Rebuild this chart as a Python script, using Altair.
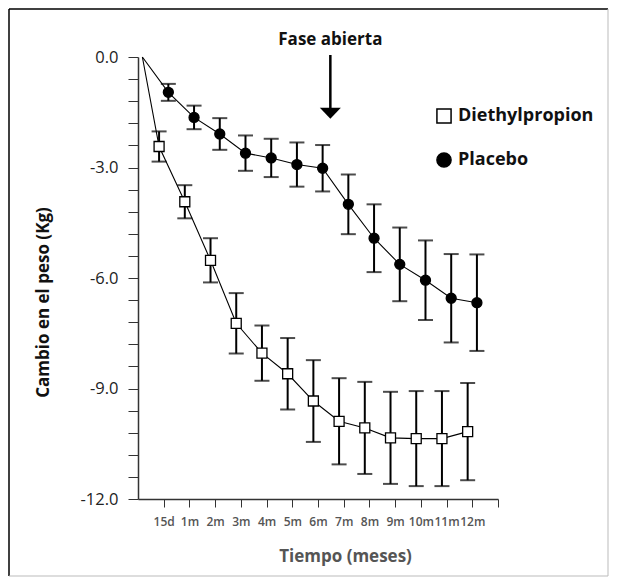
import altair as alt
import pandas as pd

# ---- data ----
time_labels = ["15d", "1m", "2m", "3m", "4m", "5m", "6m", "7m", "8m", "9m", "10m", "11m", "12m"]
series_names = ["Diethylpropion", "Placebo"]
diet_mean = [-2.43, -3.93, -5.52, -7.23, -8.04, -8.60, -9.34, -9.89, -10.07, -10.34, -10.36, -10.36, -10.17]
diet_err = [0.41, 0.45, 0.60, 0.82, 0.75, 0.97, 1.11, 1.17, 1.25, 1.25, 1.29, 1.29, 1.32]
plac_mean = [-0.96, -1.64, -2.09, -2.61, -2.74, -2.92, -3.02, -4.00, -4.92, -5.63, -6.06, -6.55, -6.67]
plac_err = [0.23, 0.32, 0.43, 0.48, 0.52, 0.60, 0.63, 0.81, 0.92, 1.00, 1.08, 1.20, 1.31]
start_value = 0.0
start_pos = 0.17
dodge = 0.18
phase_pos = 7.48
phase_text = "Fase abierta"

FONT = "Open Sans"

rows = []
line_rows = []
for name, means, errs, off in [
    (series_names[0], diet_mean, diet_err, -dodge),
    (series_names[1], plac_mean, plac_err, dodge),
]:
    line_rows.append(dict(serie=name, pos=start_pos, cambio=start_value))
    for i, (m, e) in enumerate(zip(means, errs)):
        r = dict(serie=name, pos=i + 1 + off, cambio=m, lo=m - e, hi=m + e)
        rows.append(r)
        line_rows.append(dict(serie=name, pos=r["pos"], cambio=m))
pts = pd.DataFrame(rows)
lines = pd.DataFrame(line_rows)

W, H = 360, 442
xscale = alt.Scale(domain=[0, 14], nice=False, zero=False)
yscale = alt.Scale(domain=[-12, 0], nice=False, zero=False)

label_arr = "[" + ",".join("'" + t + "'" for t in time_labels) + "]"
x_axis = alt.Axis(
    values=list(range(1, 15)),
    labelExpr=f"datum.value < 14 ? {label_arr}[datum.value - 1] : ''",
    tickSize=8, tickColor="#333", tickWidth=1,
    domainColor="#333", domainWidth=1.5,
    labelFont=FONT, labelFontSize=12, labelFontWeight=600, labelColor="#555",
    labelPadding=9, labelAngle=0, labelOverlap=False, labelBound=False, grid=False,
    title="Tiempo (meses)", titleFont=FONT, titleFontSize=17, titleFontWeight="bold",
    titleColor="#555", titleX=207, titleY=57, titleAlign="center", titleBaseline="middle",
)
y_ticks = [round(-0.6 * i, 1) + 0.0 for i in range(21)]
y_axis = alt.Axis(
    values=y_ticks,
    labelExpr="round(datum.value * 10) % 30 == 0 ? (datum.value < 0 ? '-' : '') + format(abs(datum.value), '.1f') : ''",
    tickSize=10, tickColor="#333", tickWidth=1,
    domainColor="#333", domainWidth=1.5,
    labelFont=FONT, labelFontSize=16.5, labelColor="#222", labelPadding=10,
    labelOverlap=False, grid=False,
    title="Cambio en el peso (Kg)", titleFont=FONT, titleFontSize=17, titleFontWeight="bold",
    titleColor="#111", titleX=-95, titleY=245, titleAngle=-90, titleAlign="center",
    titleBaseline="middle",
)

legend = alt.Legend(
    title=None, orient="none", legendX=297, legendY=50,
    labelFont=FONT, labelFontSize=18, labelFontWeight="bold", labelColor="#111",
    symbolSize=200, symbolStrokeWidth=1.5,
    rowPadding=22, labelOffset=5,
)


def X(field="pos"):
    return alt.X(f"{field}:Q", scale=xscale, axis=x_axis)


def Y(field):
    return alt.Y(f"{field}:Q", scale=yscale, axis=y_axis)


base = alt.Chart(pts)

line = alt.Chart(lines).mark_line(color="black", strokeWidth=1.1).encode(
    x=X(), y=Y("cambio"), detail="serie:N",
)

bars = base.mark_rule(color="black", strokeWidth=2).encode(
    x=X(), y=Y("lo"), y2="hi:Q",
)
cap_lo = base.mark_tick(color="black", orient="horizontal", size=15, thickness=2).encode(
    x=X(), y=Y("lo"),
)
cap_hi = base.mark_tick(color="black", orient="horizontal", size=15, thickness=2).encode(
    x=X(), y=Y("hi"),
)

points = base.mark_point(filled=True, strokeWidth=1.3, size=100, opacity=1).encode(
    x=X(), y=Y("cambio"),
    shape=alt.Shape("serie:N", scale=alt.Scale(domain=series_names, range=["square", "circle"]), legend=legend),
    fill=alt.Fill("serie:N", scale=alt.Scale(domain=series_names, range=["white", "black"]), legend=legend),
    stroke=alt.Stroke("serie:N", scale=alt.Scale(domain=series_names, range=["black", "black"]), legend=legend),
)

ann = pd.DataFrame({"pos": [phase_pos], "txt": [phase_text]})
ann_text = alt.Chart(ann).mark_text(
    font=FONT, fontSize=17, fontWeight="bold", color="#111", align="center", baseline="alphabetic"
).encode(x=X(), y=alt.value(-12), text="txt:N")
ann_rule = alt.Chart(ann).mark_rule(color="black", strokeWidth=2.5).encode(
    x=X(), y=alt.value(-2), y2=alt.value(52)
)
ann_head = alt.Chart(ann).mark_point(
    shape="M-1,-0.5L1,-0.5L0,0.55Z", filled=True, color="black", size=441, opacity=1
).encode(x=X(), y=alt.value(56))

frame_data = alt.Data(values=[{}])
frame_l = alt.Chart(frame_data).mark_rule(color="black", strokeWidth=1.5).encode(
    x=alt.value(-129), y=alt.value(-48), y2=alt.value(519))
frame_t = alt.Chart(frame_data).mark_rule(color="black", strokeWidth=1.5).encode(
    x=alt.value(-129), x2=alt.value(470), y=alt.value(-48))
frame_r = alt.Chart(frame_data).mark_rule(color="#bbbbbb", strokeWidth=1).encode(
    x=alt.value(470), y=alt.value(-48), y2=alt.value(519))
frame_b = alt.Chart(frame_data).mark_rule(color="#bbbbbb", strokeWidth=1).encode(
    x=alt.value(-129), x2=alt.value(470), y=alt.value(519))

chart = alt.layer(
    line, bars, cap_lo, cap_hi, points, ann_text, ann_rule, ann_head,
    frame_l, frame_t, frame_r, frame_b,
).properties(
    width=W, height=H,
    padding={"left": 130, "top": 49, "right": 111, "bottom": 78},
    autosize=alt.AutoSizeParams(type="none"),
    background="white",
).configure_view(stroke=None)

chart.save("out.html", embed_options={"renderer": "svg", "actions": False})
